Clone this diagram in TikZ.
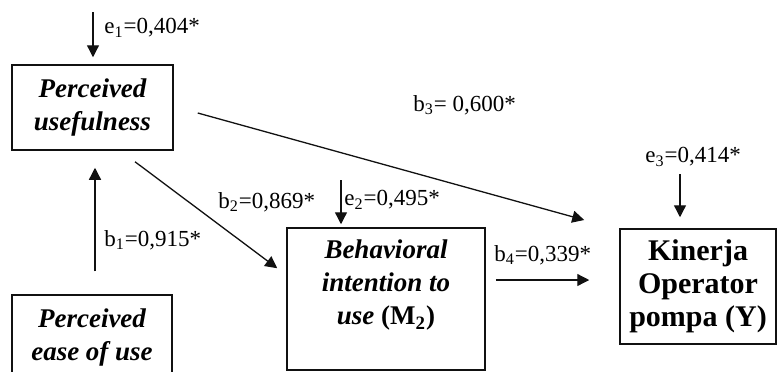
\documentclass[tikz,border=0pt]{standalone}
\usepackage{fontspec}
\setmainfont{Liberation Serif}
\usepackage{xcolor}
\usepackage{tikz}
\usetikzlibrary{calc,positioning,arrows.meta}
\definecolor{PathInk}{HTML}{111111}

\tikzset{
  varbox/.style={draw=PathInk, line width=0.75pt, align=center, inner sep=2pt,
    font=\fontsize{13.5}{16.5}\selectfont\bfseries\itshape},
  outbox/.style={draw=PathInk, line width=0.75pt, align=center, inner sep=2pt,
    font=\fontsize{15}{16.5}\selectfont\bfseries},
  coef/.style={anchor=west, inner sep=0pt, font=\fontsize{11.5}{13}\selectfont},
  path arrow/.style={draw=PathInk, line width=0.65pt, -{Triangle[length=6pt,width=6pt]}}
}

\begin{document}
\begin{tikzpicture}[x=0.5pt, y=-0.5pt]
  \clip (0,0) rectangle (777,371);

  % variables
  \node[varbox, minimum width=80.5pt, minimum height=42.5pt] (pu) at (92.5,107.5)
    {Perceived\\usefulness};
  \node[varbox, minimum width=80pt, minimum height=42pt] (peou) at (92,337)
    {Perceived\\ease of use};
  \node[varbox, minimum width=99pt, minimum height=71pt] (bi) at (386,299)
    {Behavioral\\intention to\\use {\upshape(M\textsubscript{2})}\\\mbox{}};
  \node[outbox, minimum width=78pt, minimum height=57.5pt] (kop) at (698,286.5)
    {Kinerja\\Operator\\pompa (Y)};

  % error terms
  \coordinate (e1src) at (93,12);
  \coordinate (e2src) at (341,180);
  \coordinate (e3src) at (680,174);

  % coefficients
  \node[coef] (e1lab) at (104,28) {e\textsubscript{1}=0,404*};
  \node[coef] (b1lab) at (104,240) {b\textsubscript{1}=0,915*};
  \node[coef] (b2lab) at (218,202) {b\textsubscript{2}=0,869*};
  \node[coef] (e2lab) at (344,200) {e\textsubscript{2}=0,495*};
  \node[coef] (b3lab) at (413,105) {b\textsubscript{3}= 0,600*};
  \node[coef] (b4lab) at (494,255) {b\textsubscript{4}=0,339*};
  \node[coef] (e3lab) at (645,157) {e\textsubscript{3}=0,414*};

  % paths
  \draw[path arrow, shorten >=3.5pt] (e1src) -- (e1src |- pu.north);
  \draw[path arrow, shorten <=11.5pt, shorten >=8.5pt]
    ([xshift=1.5pt]peou.north) -- ([xshift=1.5pt]peou.north |- pu.south);
  \draw[path arrow] ([xshift=21.25pt,yshift=-5.5pt]pu.south)
    -- ([xshift=-4.5pt,yshift=-20.5pt]bi.north west);
  \draw[path arrow, shorten >=1.5pt] (e2src) -- (e2src |- bi.north);
  \draw[path arrow] ([xshift=12pt,yshift=-2.75pt]pu.east)
    -- ([xshift=-17.5pt,yshift=33.25pt]kop.west);
  \draw[path arrow] ([xshift=5pt,yshift=9.5pt]bi.east)
    -- ([xshift=-15pt,yshift=3.25pt]kop.west);
  \draw[path arrow, shorten >=5.5pt] (e3src) -- (e3src |- kop.north);
\end{tikzpicture}
\end{document}
